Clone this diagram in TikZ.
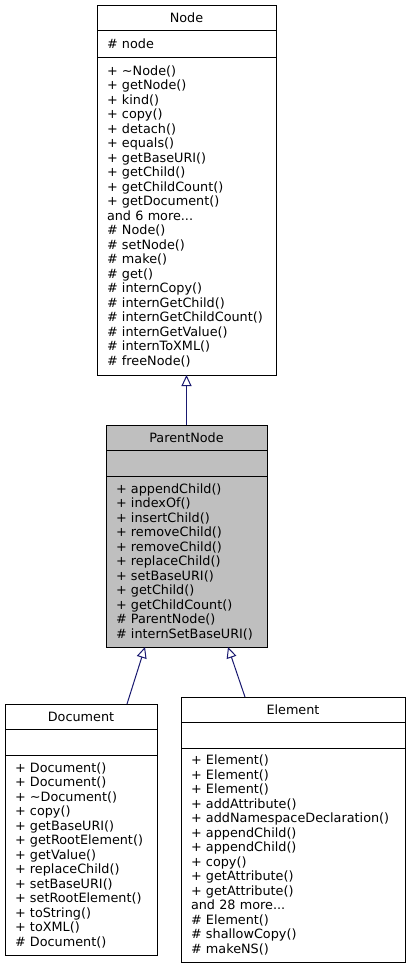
\documentclass[tikz,border=0pt]{standalone}
\usepackage{fontspec}
\setmainfont{DejaVu Sans}
\usetikzlibrary{positioning,arrows.meta}
\definecolor{edgeblue}{HTML}{191970}
\definecolor{boxgray}{HTML}{BFBFBF}

\begin{document}
\begin{tikzpicture}[x=1pt,y=-1pt,
    font=\fontsize{12.8}{14.5}\selectfont,
    cls/.style={draw=black, line width=1pt, fill=white, inner xsep=10pt, inner ysep=0pt, outer sep=0pt, align=left, anchor=north},
    clstitle/.style={cls, align=center, minimum height=25pt},
    clsempty/.style={cls, minimum height=26pt},
    inherit/.style={draw=edgeblue, line width=1pt, -{Triangle[open,length=11pt,width=10pt]}}]
    \useasboundingbox (0,0) rectangle (410,969);

    % base class
    \node[clstitle, text width=159pt] (node-title) at (186.5,5) {Node};
    \node[cls, text width=159pt, minimum height=27pt, below=0pt of node-title] (node-attr) {\# node};
    \node[cls, text width=159pt, minimum height=318pt, below=0pt of node-attr] (node-ops) {%
        + \textasciitilde Node()\\ + getNode()\\ + kind()\\ + copy()\\ + detach()\\
        + equals()\\ + getBaseURI()\\ + getChild()\\ + getChildCount()\\ + getDocument()\\
        and 6 more...\\ \# Node()\\ \# setNode()\\ \# make()\\ \# get()\\
        \# internCopy()\\ \# internGetChild()\\ \# internGetChildCount()\\
        \# internGetValue()\\ \# internToXML()\\ \# freeNode()};

    % ParentNode (highlighted)
    \node[clstitle, fill=boxgray, text width=141pt] (pn-title) at (186.5,425) {ParentNode};
    \node[clsempty, fill=boxgray, text width=141pt, below=0pt of pn-title] (pn-attr) {};
    \node[cls, fill=boxgray, text width=141pt, minimum height=171pt, below=0pt of pn-attr] (pn-ops) {%
        + appendChild()\\ + indexOf()\\ + insertChild()\\ + removeChild()\\
        + removeChild()\\ + replaceChild()\\ + setBaseURI()\\ + getChild()\\
        + getChildCount()\\ \# ParentNode()\\ \# internSetBaseURI()};

    % derived classes
    \node[clstitle, text width=132pt] (doc-title) at (81,704) {Document};
    \node[clsempty, text width=132pt, below=0pt of doc-title] (doc-attr) {};
    \node[cls, text width=132pt, minimum height=200pt, below=0pt of doc-attr] (doc-ops) {%
        + Document()\\ + Document()\\ + \textasciitilde Document()\\ + copy()\\
        + getBaseURI()\\ + getRootElement()\\ + getValue()\\ + replaceChild()\\
        + setBaseURI()\\ + setRootElement()\\ + toString()\\ + toXML()\\ \# Document()};

    \node[clstitle, text width=204pt] (el-title) at (293,697) {Element};
    \node[clsempty, text width=204pt, below=0pt of el-title] (el-attr) {};
    \node[cls, text width=204pt, minimum height=214pt, below=0pt of el-attr] (el-ops) {%
        + Element()\\ + Element()\\ + Element()\\ + addAttribute()\\
        + addNamespaceDeclaration()\\ + appendChild()\\ + appendChild()\\ + copy()\\
        + getAttribute()\\ + getAttribute()\\ and 28 more...\\ \# Element()\\
        \# shallowCopy()\\ \# makeNS()};

    % inheritance
    \draw[inherit] (pn-title.north) -- (node-ops.south);
    \draw[inherit] ([xshift=46pt]doc-title.north) -- ([xshift=-41.5pt]pn-ops.south);
    \draw[inherit] ([xshift=-48pt]el-title.north) -- ([xshift=41.5pt]pn-ops.south);
\end{tikzpicture}
\end{document}
